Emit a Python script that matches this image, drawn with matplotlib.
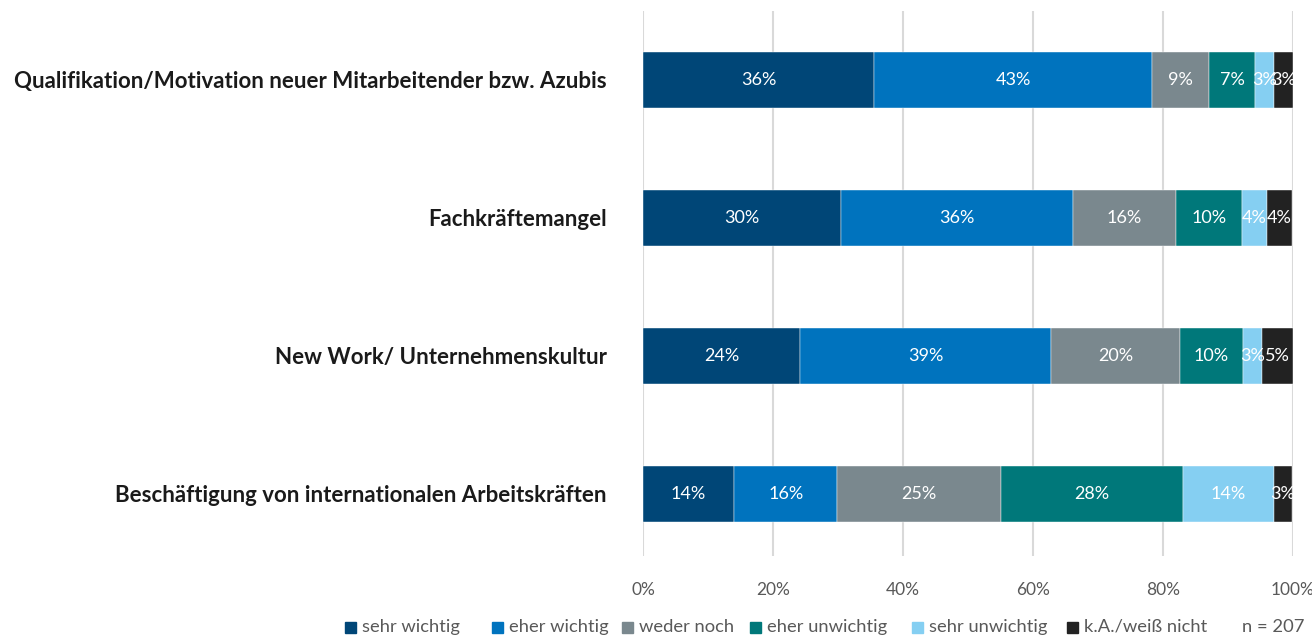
import matplotlib
matplotlib.use("Agg")
import matplotlib.pyplot as plt
from matplotlib.patches import Rectangle

plt.rcParams['font.family'] = ['Lato', 'DejaVu Sans']

categories = [
    "Qualifikation/Motivation neuer Mitarbeitender bzw. Azubis",
    "Fachkräftemangel",
    "New Work/ Unternehmenskultur",
    "Beschäftigung von internationalen Arbeitskräften",
]
series_names = ["sehr wichtig", "eher wichtig", "weder noch",
                "eher unwichtig", "sehr unwichtig", "k.A./weiß nicht"]
# share of answers per category (percent), one list per answer option
sehr_wichtig = [35.6, 30.4, 24.2, 14.0]
eher_wichtig = [42.7, 35.7, 38.6, 15.9]
weder_noch = [8.8, 15.9, 19.8, 25.1]
eher_unwichtig = [7.1, 10.1, 9.7, 28.0]
sehr_unwichtig = [2.9, 3.9, 2.9, 14.0]
keine_angabe = [2.9, 3.9, 4.8, 2.9]
x_ticks = [0, 20, 40, 60, 80, 100]
n_label = "n = 207"

series = [sehr_wichtig, eher_wichtig, weder_noch,
          eher_unwichtig, sehr_unwichtig, keine_angabe]
colors = ["#004677", "#0073BE", "#7A888E", "#00787A", "#85CFF2", "#222222"]

W, H = 1312, 636
fig = plt.figure(figsize=(W / 100, H / 100), dpi=100)
ax = fig.add_axes([643 / W, 1 - 556 / H, 650 / W, 545 / H])

ypos = list(range(len(categories)))
left = [0.0] * len(categories)
for vals, col in zip(series, colors):
    ax.barh(ypos, vals, left=left, height=0.4, color=col,
            edgecolor="white", linewidth=0.3, zorder=3)
    for y, l, v in zip(ypos, left, vals):
        ax.text(l + v / 2, y, f"{v:.0f}%", ha="center", va="center",
                color="white", fontsize=13, zorder=4)
    left = [a + b for a, b in zip(left, vals)]

ax.set_xlim(0, 100)
ax.set_ylim(3.45, -0.5)
ax.set_xticks(x_ticks)
ax.set_xticklabels([f"{t}%" for t in x_ticks], color="#595959", fontsize=12.5)
ax.tick_params(axis="x", length=0, pad=19)
ax.set_yticks(ypos)
ax.set_yticklabels(categories, fontsize=16, fontweight="bold", color="#1a1a1a")
ax.tick_params(axis="y", length=0, pad=26)
ax.grid(axis="x", color="#d9d9d9", linewidth=1.5, zorder=0)
for s in ax.spines.values():
    s.set_visible(False)

# legend row along the bottom
marker_x = [345, 492, 622, 750, 912, 1067]
ly = 1 - 627 / H
for name, col, mx in zip(series_names, colors, marker_x):
    fig.patches.append(Rectangle((mx / W, ly - 5.5 / H), 11 / W, 11 / H,
                                 transform=fig.transFigure, color=col))
    fig.text((mx + 17) / W, ly, name, ha="left", va="center",
             fontsize=13.2, color="#595959")
fig.text(1305 / W, ly, n_label, ha="right", va="center",
         fontsize=13.2, color="#595959")

fig.savefig("out.png", dpi=100)
